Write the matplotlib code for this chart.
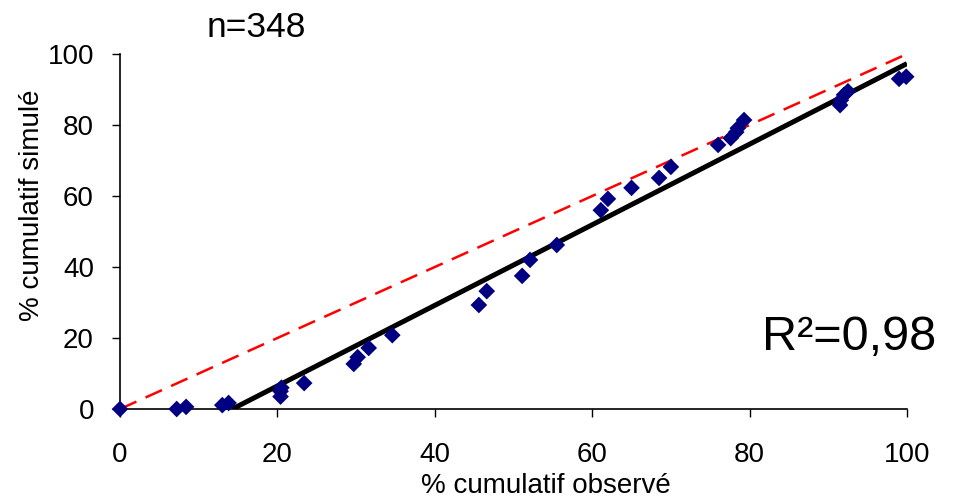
import numpy as np
import matplotlib

matplotlib.use("Agg")

import matplotlib.pyplot as plt

plt.rcParams["font.family"] = ["Liberation Sans", "DejaVu Sans"]

# Observed vs simulated cumulative percentages
observed = [0, 7.2, 8.4, 13.0, 13.8, 20.4, 20.4, 20.5, 23.4, 29.7, 30.2, 31.6,
            34.6, 45.6, 46.6, 51.1, 52.1, 55.5, 61.1, 62.0, 65.0, 68.5, 70.0,
            76.0, 77.6, 78.3, 78.5, 79.3, 91.5, 91.6, 92.0, 92.5, 99.0, 99.9]
simulated = [0, 0, 0.6, 1.1, 1.7, 3.5, 5.0, 6.0, 7.3, 12.7, 14.6, 17.2,
             20.8, 29.3, 33.2, 37.5, 42.0, 46.2, 56.0, 59.2, 62.3, 65.1, 68.2,
             74.4, 76.3, 78.0, 79.1, 81.4, 85.6, 87.0, 88.5, 89.5, 93.0, 93.6]

# Fitted regression line (drawn where it is above zero)
fit_slope = 1.135
fit_intercept = -16.2
fit_x = [14.3, 100]

fig = plt.figure(figsize=(9.54, 5.01), dpi=100)
ax = fig.add_axes([0.1258, 0.1836, 0.8249, 0.7086])

ax.plot([0, 100], [0, 100], color="#ff0000", ls=(0, (7.2, 4)), lw=1.8,
        zorder=2)
ax.plot(fit_x, [fit_slope * x + fit_intercept for x in fit_x],
        color="black", lw=3.6, zorder=3, solid_capstyle="butt")
ax.scatter(observed, simulated, marker="D", s=72, color="#000080",
           edgecolors="none", zorder=4, clip_on=False)

ax.set_xlim(0, 100)
ax.set_ylim(0, 100)
ax.set_xticks(np.arange(0, 101, 20))
ax.set_yticks(np.arange(0, 101, 20))
ax.tick_params(axis="both", labelsize=20, length=5.8, width=1,
               direction="out", colors="black")
ax.tick_params(axis="x", pad=18)
ax.tick_params(axis="y", pad=13)
for side in ("top", "right"):
    ax.spines[side].set_visible(False)
for side in ("left", "bottom"):
    ax.spines[side].set_linewidth(1.2)
ax.patch.set_visible(False)

fig.text(0.572, 0.016, "% cumulatif observé", fontsize=20, ha="center",
         va="baseline")
fig.text(0.034, 0.59, "% cumulatif simulé", fontsize=20, ha="center",
         va="center", rotation=90)

fig.text(0.269, 0.926, "n=348", fontsize=25.5, ha="center", va="baseline")
fig.text(0.89, 0.301, "R²=0,98", fontsize=35, ha="center", va="baseline")

fig.savefig("out.png", dpi=100, facecolor="white")
